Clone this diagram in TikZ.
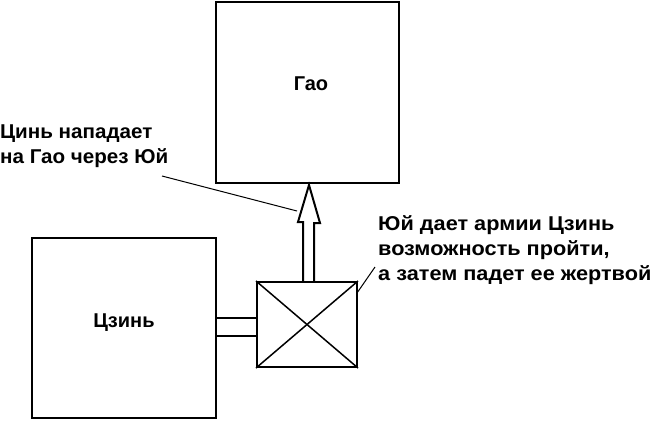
\documentclass[tikz,border=0pt]{standalone}
\usepackage{fontspec}
\setmainfont{Liberation Sans}
\newfontfamily\notefontL[FakeStretch=1.03]{Liberation Sans Bold}
\newfontfamily\notefontR[FakeStretch=1.085]{Liberation Sans Bold}
\usetikzlibrary{calc}
\begin{document}
\begin{tikzpicture}[x=1pt,y=-1pt,
  box/.style={draw,line width=2pt,rectangle,inner sep=0pt},
  lbl/.style={font=\bfseries\fontsize{20}{24}\selectfont,inner sep=0pt},
  noteL/.style={font=\notefontL\fontsize{20}{24.5}\selectfont,inner sep=0pt,align=left,anchor=west},
  noteR/.style={font=\notefontR\fontsize{20}{25}\selectfont,inner sep=0pt,align=left,anchor=west},
  leader/.style={line width=1pt},
  thick2/.style={line width=2pt}]
\useasboundingbox (0,0) rectangle (653,421);
% boxes
\node[box,minimum width=183pt,minimum height=181pt] (gao) at (307.5,92.5) {};
\node[lbl] (gaot) at (311,84) {Гао};
\node[box,minimum width=184pt,minimum height=180pt] (jin) at (124,328) {};
\node[lbl] (jint) at (124,323) {Цзинь};
\node[box,minimum width=100pt,minimum height=85pt] (yu) at (307,324.5) {};
\draw[line width=1.5pt] (yu.north west) -- (yu.south east) (yu.north east) -- (yu.south west);
% passage from Jin to Yu
\draw[thick2] (jin.east |- 0,318) -- (yu.west |- 0,318);
\draw[thick2] (jin.east |- 0,336) -- (yu.west |- 0,336);
% hollow arrow from Yu to Gao
\coordinate (tip) at (309,185);
\draw[thick2,line join=miter]
  ($(yu.north)+(-4,0)$) -- ++(0,-59) -- ++(-5,0) -- (tip) -- (320,223) -- ++(-6,0) -- (314,282);
% notes
\node[noteL] (n1) at (0,146) {Цинь нападает\\на Гао через Юй};
\coordinate (n1end) at (297,211);
\draw[leader] (162,176) -- (n1end);
\node[noteR] (n2) at (378,250) {Юй дает армии Цзинь\\возможность пройти,\\а затем падет ее жертвой};
\draw[leader] (357,293) -- (375,267);
\end{tikzpicture}
\end{document}
